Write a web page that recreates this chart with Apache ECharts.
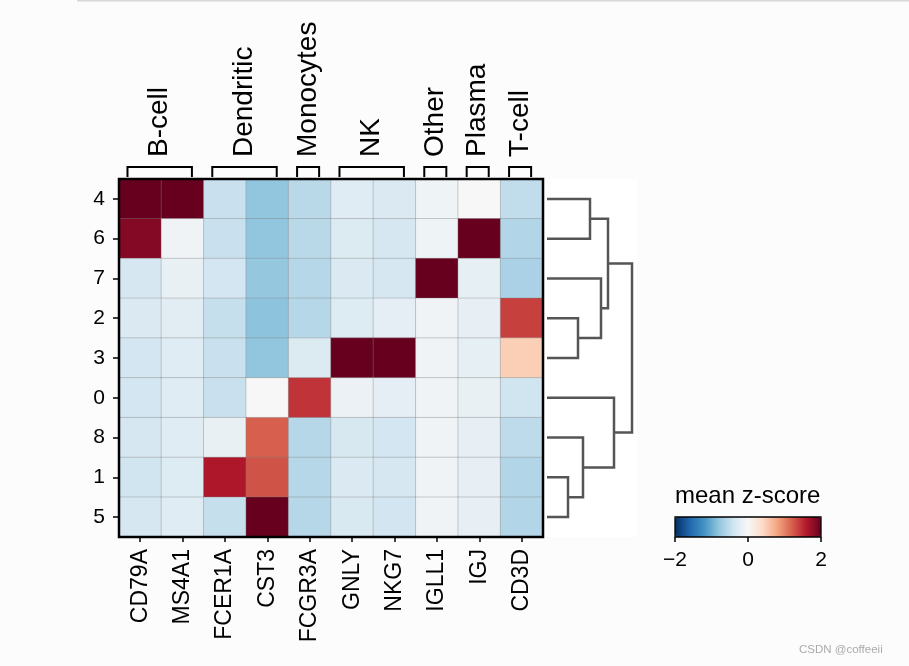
<!DOCTYPE html>
<html><head><meta charset="utf-8">
<script src="https://cdn.jsdelivr.net/npm/echarts@6/dist/echarts.min.js"></script>
<style>html,body{margin:0;padding:0;background:#fcfcfc}#c{width:909px;height:666px}</style>
</head><body><div id="c"></div>
<script>
// ---- data ----
const genes = ['CD79A','MS4A1','FCER1A','CST3','FCGR3A','GNLY','NKG7','IGLL1','IGJ','CD3D'];
const clusters = ['4','6','7','2','3','0','8','1','5'];
const groupNames = ['B-cell','Dendritic','Monocytes','NK','Other','Plasma','T-cell'];
const groupStart = [0,2,4,5,7,8,9];
const groupEnd   = [1,3,4,6,7,8,9];
// mean z-score per cluster (row) and gene (column)
const row4 = [2.6, 2.6, -0.45, -0.80, -0.55, -0.25, -0.30, -0.10, 0.00, -0.50];
const row6 = [1.85, -0.08, -0.45, -0.80, -0.55, -0.28, -0.35, -0.10, 2.6, -0.60];
const row7 = [-0.35, -0.15, -0.37, -0.78, -0.58, -0.30, -0.35, 2.6, -0.18, -0.65];
const row2 = [-0.30, -0.22, -0.47, -0.82, -0.58, -0.27, -0.20, -0.08, -0.17, 1.38];
const row3 = [-0.37, -0.25, -0.45, -0.80, -0.28, 2.6, 2.6, -0.08, -0.18, 0.50];
const row0 = [-0.37, -0.25, -0.45, 0.00, 1.45, -0.13, -0.20, -0.08, -0.15, -0.40];
const row8 = [-0.35, -0.25, -0.15, 1.20, -0.58, -0.33, -0.37, -0.08, -0.17, -0.52];
const row1 = [-0.40, -0.27, 1.62, 1.27, -0.58, -0.30, -0.35, -0.08, -0.17, -0.60];
const row5 = [-0.35, -0.25, -0.47, 2.6, -0.58, -0.32, -0.39, -0.08, -0.17, -0.60];
const rows = [row4,row6,row7,row2,row3,row0,row8,row1,row5];
// dendrogram merges: [childA, childB, height]; leaves 0..8 in display order, merged nodes get ids 9..
const dendroMerges = [[0,1,43],[3,4,31],[2,10,54],[9,11,61],[7,8,21],[6,13,36],[5,14,67],[12,15,85]];
const cbarMin = -2, cbarMax = 2, cbarStep = 2;
const rdbuR = ['#053061','#2166ac','#4393c3','#92c5de','#d1e5f0','#f7f7f7','#fddbc7','#f4a582','#d6604d','#b2182b','#67001f'];

// ---- build ----
const heatData = [];
rows.forEach((r, yi) => r.forEach((v, xi) => heatData.push([xi, yi, v])));

const nodePos = clusters.map((_, i) => i);
const nodeH = clusters.map(() => 0);
const dendroLines = [];
dendroMerges.forEach(([a, b, h]) => {
  dendroLines.push({coords: [[nodeH[a], nodePos[a]], [h, nodePos[a]], [h, nodePos[b]], [nodeH[b], nodePos[b]]]});
  nodePos.push((nodePos[a] + nodePos[b]) / 2);
  nodeH.push(h);
});

const bracketLines = groupStart.map((s, i) => {
  const l = s + 0.2, r = groupEnd[i] + 0.72;
  return {coords: [[l, 0], [l, 1], [r, 1], [r, 0]]};
});
const bracketLabels = groupStart.map((s, i) => [(s + 0.2 + groupEnd[i] + 0.72) / 2, 1]);

const FF = "'Liberation Sans', Arial, Helvetica, sans-serif";
const chart = echarts.init(document.getElementById('c'), null, {renderer: 'canvas'});
chart.setOption({
  backgroundColor: '#fcfcfc',
  animation: false,
  textStyle: {fontFamily: FF},
  title: {text: 'mean z-score', left: 675, top: 484, padding: 0,
    textStyle: {fontSize: 24, fontWeight: 'normal', color: '#000', fontFamily: FF}},
  graphic: [
    {type: 'rect', shape: {x: 77, y: 0, width: 832, height: 1.5}, style: {fill: '#d8d8d8'}, silent: true},
    {type: 'text', left: 799, top: 644, style: {text: 'CSDN @coffeeii', font: "11.5px " + FF, fill: '#aaaaaa'}, silent: true}
  ],
  grid: [
    {left: 119, top: 179, width: 424, height: 358, show: true, borderColor: '#000', borderWidth: 2.5, backgroundColor: 'transparent', z: 10},
    {left: 119, top: 167, width: 424, height: 10},
    {left: 545, top: 179, width: 92, height: 358, show: true, backgroundColor: '#ffffff', borderWidth: 0},
    {left: 675, top: 517, width: 146, height: 20, show: true, borderColor: '#000', borderWidth: 1.3, backgroundColor: 'transparent', z: 10}
  ],
  xAxis: [
    {type: 'category', gridIndex: 0, data: genes, position: 'bottom',
      axisLine: {show: false}, splitLine: {show: false},
      axisTick: {show: true, alignWithLabel: true, length: 5, lineStyle: {color: '#000', width: 1.5}},
      axisLabel: {rotate: 90, fontSize: 23, color: '#000', margin: 12, fontFamily: FF}},
    {type: 'value', gridIndex: 1, min: 0, max: 10, show: false},
    {type: 'value', gridIndex: 2, min: -2, max: 90, show: false},
    {type: 'value', gridIndex: 3, min: cbarMin, max: cbarMax, interval: cbarStep,
      axisLine: {show: false}, splitLine: {show: false},
      axisTick: {show: true, length: 5, lineStyle: {color: '#000', width: 1.5}},
      axisLabel: {fontSize: 21, color: '#000', margin: 13, fontFamily: FF,
        formatter: v => v < 0 ? '\u2212' + Math.abs(v) : String(v)}}
  ],
  yAxis: [
    {type: 'category', gridIndex: 0, data: clusters, inverse: true,
      axisLine: {show: false}, splitLine: {show: false},
      axisTick: {show: true, alignWithLabel: true, length: 6, lineStyle: {color: '#000', width: 1.5}},
      axisLabel: {fontSize: 21, color: '#000', margin: 14, fontFamily: FF}},
    {type: 'value', gridIndex: 1, min: 0, max: 1, show: false},
    {type: 'value', gridIndex: 2, min: -0.5, max: 8.5, inverse: true, show: false},
    {type: 'value', gridIndex: 3, min: 0, max: 1, show: false}
  ],
  visualMap: {
    type: 'continuous', min: cbarMin, max: cbarMax, seriesIndex: 0,
    orient: 'horizontal', left: 675, top: 517, itemWidth: 20, itemHeight: 146,
    calculable: false, hoverLink: false, padding: 0, text: null, showLabel: false,
    inRange: {color: rdbuR}
  },
  series: [
    {type: 'heatmap', xAxisIndex: 0, yAxisIndex: 0, data: heatData, silent: true,
      itemStyle: {borderColor: 'rgba(130,130,130,0.45)', borderWidth: 0.8}},
    {type: 'lines', coordinateSystem: 'cartesian2d', xAxisIndex: 1, yAxisIndex: 1, polyline: true, silent: true,
      data: bracketLines, lineStyle: {color: '#000', width: 2, opacity: 1}},
    {type: 'custom', coordinateSystem: 'cartesian2d', xAxisIndex: 1, yAxisIndex: 1, silent: true,
      data: bracketLabels,
      renderItem: (params, api) => {
        const p = api.coord([api.value(0), api.value(1)]);
        return {type: 'text', x: p[0], y: p[1] - 10, rotation: Math.PI / 2,
          style: {text: groupNames[params.dataIndex], fontSize: 28, fontFamily: FF, fill: '#000',
            align: 'left', verticalAlign: 'middle'}};
      }},
    {type: 'lines', coordinateSystem: 'cartesian2d', xAxisIndex: 2, yAxisIndex: 2, polyline: true, silent: true,
      data: dendroLines, lineStyle: {color: '#555555', width: 2.5, opacity: 1}}
  ]
});
</script></body></html>
